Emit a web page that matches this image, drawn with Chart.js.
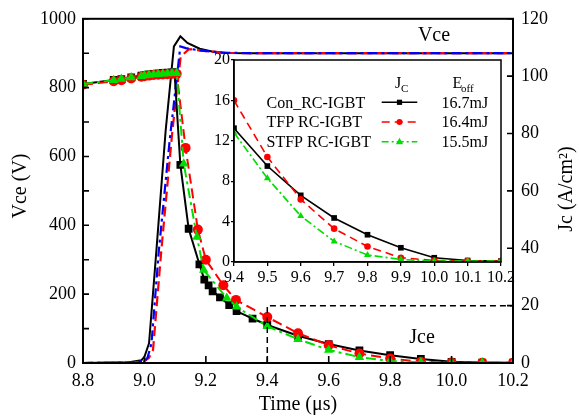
<!DOCTYPE html>
<html><head><meta charset="utf-8">
<script src="https://cdn.jsdelivr.net/npm/chart.js@4/dist/chart.umd.min.js"></script>
<style>
html,body{margin:0;padding:0;background:#fff;}
#wrap{position:relative;width:579px;height:420px;overflow:hidden;}
#main{position:absolute;left:0;top:0;}
#inset{position:absolute;left:194px;top:45px;}
</style></head><body>
<div id="wrap"><canvas id="main" width="579" height="420"></canvas><canvas id="inset" width="330" height="245"></canvas></div>
<script>
// ---------- data ----------
const seriesNames = ['Con_RC-IGBT', 'TFP RC-IGBT', 'STFP RC-IGBT'];
const eoffLabels = ['16.7mJ', '16.4mJ', '15.5mJ'];

// inset / tail (9.4 .. 10.2 us), Jc in A/cm2
const insetTime = [9.4, 9.5, 9.6, 9.7, 9.8, 9.9, 10.0, 10.1, 10.2];
const insetCon  = [13.25, 9.5, 6.6, 4.36, 2.7, 1.41, 0.42, 0.15, 0.1];
const insetTfp  = [16.0, 10.4, 6.2, 3.3, 1.54, 0.42, 0.15, 0.1, 0.1];
const insetStfp = [12.8, 8.3, 4.56, 2.04, 0.7, 0.25, 0.1, 0.1, 0.1];

// Jc before 9.4 us
const jcTimeCon  = [8.8, 8.9, 8.925, 8.957, 8.99, 9.0, 9.015, 9.03, 9.045, 9.06, 9.075, 9.09, 9.098, 9.117, 9.144, 9.179, 9.195, 9.209, 9.222, 9.246, 9.276, 9.3, 9.352];
const jcCon      = [97.3, 98.7, 99.0, 99.6, 100.2, 100.4, 100.6, 100.8, 101.0, 101.1, 101.2, 101.3, 101.3, 69.1, 46.8, 34.4, 29.1, 27.1, 25.0, 22.9, 20.2, 18.1, 15.5];
const jcTimeTfp  = [8.8, 8.9, 8.925, 8.957, 8.99, 9.0, 9.015, 9.03, 9.045, 9.06, 9.075, 9.09, 9.105, 9.134, 9.174, 9.2, 9.257, 9.298];
const jcTfp      = [97.0, 98.2, 98.6, 99.2, 99.8, 100.0, 100.2, 100.4, 100.5, 100.6, 100.7, 100.8, 100.8, 75.0, 46.5, 36.0, 27.1, 22.0];
const jcTimeStfp = [8.8, 8.9, 8.925, 8.957, 8.99, 9.0, 9.015, 9.03, 9.045, 9.06, 9.075, 9.09, 9.105, 9.128, 9.171, 9.193, 9.268, 9.3];
const jcStfp     = [97.3, 98.6, 99.0, 99.5, 100.0, 100.2, 100.4, 100.6, 100.7, 100.8, 100.9, 101.0, 101.0, 69.5, 43.9, 32.4, 22.7, 19.6];

// Vce (V)
const vceTimeCon  = [8.8, 8.95, 8.99, 9.0, 9.015, 9.039, 9.069, 9.096, 9.117, 9.14, 9.18, 9.22, 9.27, 9.35, 10.2];
const vceCon      = [0, 2, 8, 18, 57, 327, 674, 920, 949, 930, 913, 905, 901, 900, 900];
const vceTimeTfp  = [8.8, 8.95, 9.0, 9.015, 9.028, 9.055, 9.091, 9.118, 9.145, 9.2, 9.27, 9.35, 10.2];
const vceTfp      = [0, 1, 5, 15, 38, 327, 674, 890, 912, 906, 901, 900, 900];
const vceTimeStfp = [8.8, 8.95, 9.0, 9.01, 9.023, 9.047, 9.082, 9.117, 9.135, 9.18, 9.25, 9.35, 10.2];
const vceStfp     = [0, 1, 6, 15, 57, 327, 645, 920, 915, 908, 902, 900, 900];

const timeTicks = [8.8, 10.2];   // x range
const vceRange = [0, 1000];
const jcRange = [0, 120];
const insetJcRange = [0, 20];

// ---------- helpers ----------
const pts = (ts, vs) => ts.map((t, i) => ({x: t, y: vs[i]}));
const FONT = 'Liberation Serif';
Chart.defaults.font.family = FONT;
Chart.defaults.color = '#000';
const BLACK = '#000000', RED = '#ff0000', GREEN = '#00dd00', BLUE = '#0000ff';

// ---------- main chart ----------
const mainDeco = {
  id: 'mainDeco',
  afterDraw(chart) {
    const {ctx, chartArea: a, scales: {x, y, y2}} = chart;
    ctx.save();
    // inward ticks
    ctx.strokeStyle = '#000'; ctx.lineWidth = 1.6;
    ctx.beginPath();
    x.ticks.forEach(t => { const p = x.getPixelForValue(t.value); ctx.moveTo(p, a.bottom); ctx.lineTo(p, a.bottom - 7); });
    const yv = y.ticks.map(t => t.value);
    const yAll = [];
    yv.forEach((v, i) => { yAll.push(v); if (i < yv.length - 1) yAll.push((v + yv[i + 1]) / 2); });
    yAll.forEach(v => { const p = y.getPixelForValue(v); ctx.moveTo(a.left, p); ctx.lineTo(a.left + 6, p); });
    y2.ticks.forEach(t => { const p = y2.getPixelForValue(t.value); ctx.moveTo(a.right, p); ctx.lineTo(a.right - 6, p); });
    ctx.stroke();
    // zoom box (dashed)
    ctx.setLineDash([6, 4]); ctx.lineWidth = 1.5;
    ctx.beginPath();
    const xl = x.getPixelForValue(insetTime[0]), xr = x.getPixelForValue(insetTime[insetTime.length - 1]);
    const yt = y2.getPixelForValue(insetJcRange[1]), yb = y2.getPixelForValue(0);
    ctx.moveTo(xl, yb); ctx.lineTo(xl, yt); ctx.lineTo(xr, yt); ctx.lineTo(xr, yb);
    ctx.stroke();
    ctx.setLineDash([]);
    // frame
    ctx.lineWidth = 2;
    ctx.strokeRect(a.left, a.top, a.right - a.left, a.bottom - a.top);
    // annotations
    ctx.fillStyle = '#000';
    ctx.font = '20px ' + FONT;
    ctx.textAlign = 'center'; ctx.textBaseline = 'alphabetic';
    ctx.fillText('Vce', 434, 41);
    ctx.fillText('Jce', 422, 343);
    // axis titles
    ctx.textBaseline = 'middle';
    ctx.fillText('Time (\u03bcs)', 298, 405);
    ctx.save(); ctx.translate(21, 186); ctx.rotate(-Math.PI / 2); ctx.fillText('Vce (V)', 0, 0); ctx.restore();
    ctx.save(); ctx.translate(567, 189); ctx.rotate(-Math.PI / 2); ctx.fillText('Jc (A/cm\u00b2)', 0, 0); ctx.restore();
    ctx.restore();
  }
};

const tickFont = {family: FONT, size: 18};
new Chart(document.getElementById('main'), {
  type: 'line',
  data: {
    datasets: [
      {label: 'Jc ' + seriesNames[2], data: pts(jcTimeStfp.concat(insetTime), jcStfp.concat(insetStfp)), yAxisID: 'y2', order: 0,
       borderColor: GREEN, backgroundColor: GREEN, borderWidth: 2, borderDash: [10, 4, 3, 4], pointStyle: 'triangle', pointRadius: 5.5, pointBorderWidth: 0},
      {label: 'Jc ' + seriesNames[1], data: pts(jcTimeTfp.concat(insetTime), jcTfp.concat(insetTfp)), yAxisID: 'y2', order: 1,
       borderColor: RED, backgroundColor: RED, borderWidth: 2, borderDash: [10, 5], pointStyle: 'circle', pointRadius: 5, pointBorderWidth: 0},
      {label: 'Jc ' + seriesNames[0], data: pts(jcTimeCon.concat(insetTime), jcCon.concat(insetCon)), yAxisID: 'y2', order: 2,
       borderColor: BLACK, backgroundColor: BLACK, borderWidth: 2, pointStyle: 'rect', pointRadius: 5.5, pointBorderWidth: 0},
      {label: 'Vce ' + seriesNames[2], data: pts(vceTimeStfp, vceStfp), yAxisID: 'y', order: 3,
       borderColor: BLUE, borderWidth: 2.2, borderDash: [10, 4, 3, 4], pointRadius: 0},
      {label: 'Vce ' + seriesNames[1], data: pts(vceTimeTfp, vceTfp), yAxisID: 'y', order: 4,
       borderColor: RED, borderWidth: 2.2, borderDash: [10, 5], pointRadius: 0},
      {label: 'Vce ' + seriesNames[0], data: pts(vceTimeCon, vceCon), yAxisID: 'y', order: 5,
       borderColor: BLACK, borderWidth: 2, pointRadius: 0}
    ]
  },
  options: {
    responsive: false, animation: false, devicePixelRatio: 1,
    layout: {padding: {top: 18, left: 0, right: 0, bottom: 0}},
    plugins: {legend: {display: false}, tooltip: {enabled: false}},
    scales: {
      x: {type: 'linear', min: timeTicks[0], max: timeTicks[1],
          ticks: {stepSize: 0.2, callback: v => v.toFixed(1), font: tickFont, color: '#000', padding: 7, maxRotation: 0, autoSkip: false},
          grid: {display: false, drawTicks: false}, border: {display: true, color: '#000', width: 2},
          afterFit: s => { s.height = 57; }},
      y: {type: 'linear', position: 'left', min: vceRange[0], max: vceRange[1],
          ticks: {stepSize: 200, callback: v => String(v), font: tickFont, color: '#000', padding: 7},
          grid: {display: false, drawTicks: false}, border: {display: true, color: '#000', width: 2},
          afterFit: s => { s.width = 83; }},
      y2: {type: 'linear', position: 'right', min: jcRange[0], max: jcRange[1],
          ticks: {stepSize: 20, callback: v => String(v), font: tickFont, color: '#000', padding: 8},
          grid: {display: false, drawTicks: false}, border: {display: true, color: '#000', width: 2},
          afterFit: s => { s.width = 66; }}
    }
  },
  plugins: [mainDeco]
});

// ---------- inset chart ----------
const OX = 194, OY = 45; // inset canvas offset on the page
function drawMarker(ctx, style, x, y, r, color) {
  ctx.fillStyle = color;
  ctx.beginPath();
  if (style === 'rect') { ctx.rect(x - r, y - r, 2 * r, 2 * r); }
  else if (style === 'circle') { ctx.arc(x, y, r, 0, Math.PI * 2); }
  else { ctx.moveTo(x, y - r * 1.1); ctx.lineTo(x + r, y + r * 0.7); ctx.lineTo(x - r, y + r * 0.7); ctx.closePath(); }
  ctx.fill();
}
const insetDeco = {
  id: 'insetDeco',
  beforeDraw(chart) {
    const {ctx, chartArea: a} = chart;
    ctx.save(); ctx.fillStyle = '#fff';
    ctx.fillRect(a.left, a.top, a.right - a.left, a.bottom - a.top);
    ctx.restore();
  },
  afterDraw(chart) {
    const {ctx, chartArea: a} = chart;
    ctx.save();
    ctx.strokeStyle = '#000'; ctx.lineWidth = 1.5;
    ctx.strokeRect(a.left, a.top, a.right - a.left, a.bottom - a.top);
    ctx.translate(-OX, -OY);
    // legend header
    ctx.fillStyle = '#000'; ctx.textAlign = 'left'; ctx.textBaseline = 'alphabetic';
    ctx.font = '16px ' + FONT;
    ctx.fillText('J', 395, 88);
    ctx.fillText('E', 452.5, 88);
    ctx.font = '11px ' + FONT;
    ctx.fillText('C', 401, 92);
    ctx.fillText('off', 461, 92);
    const rows = [102.3, 122, 141.7];
    const colors = [BLACK, RED, GREEN];
    const dashes = [[], [8, 5], [7, 3, 2, 3]];
    const styles = ['rect', 'circle', 'triangle'];
    const mr = [2.6, 3, 3.6];
    rows.forEach((cy, i) => {
      ctx.font = '16px ' + FONT; ctx.fillStyle = '#000';
      ctx.textBaseline = 'middle';
      ctx.fillText(seriesNames[i], 266.5, cy + 1);
      ctx.fillText(eoffLabels[i], 441.5, cy + 1);
      ctx.strokeStyle = colors[i]; ctx.lineWidth = 1.6; ctx.setLineDash(dashes[i]);
      ctx.beginPath(); ctx.moveTo(381.7, cy); ctx.lineTo(417.3, cy); ctx.stroke();
      ctx.setLineDash([]);
      drawMarker(ctx, styles[i], 399.5, cy, mr[i], colors[i]);
    });
    ctx.restore();
  }
};
const insetFont = {family: FONT, size: 16};
new Chart(document.getElementById('inset'), {
  type: 'line',
  data: {
    datasets: [
      {label: seriesNames[2], data: pts(insetTime, insetStfp), order: 0,
       borderColor: GREEN, backgroundColor: GREEN, borderWidth: 1.6, borderDash: [8, 3, 2, 3], pointStyle: 'triangle', pointRadius: 4, pointBorderWidth: 0},
      {label: seriesNames[1], data: pts(insetTime, insetTfp), order: 1,
       borderColor: RED, backgroundColor: RED, borderWidth: 1.6, borderDash: [8, 5], pointStyle: 'circle', pointRadius: 3.3, pointBorderWidth: 0},
      {label: seriesNames[0], data: pts(insetTime, insetCon), order: 2,
       borderColor: BLACK, backgroundColor: BLACK, borderWidth: 1.6, pointStyle: 'rect', pointRadius: 4, pointBorderWidth: 0}
    ]
  },
  options: {
    responsive: false, animation: false, devicePixelRatio: 1,
    layout: {padding: {top: 15, left: 0, right: 23, bottom: 0}},
    plugins: {legend: {display: false}, tooltip: {enabled: false}},
    scales: {
      x: {type: 'linear', min: insetTime[0], max: insetTime[insetTime.length - 1],
          ticks: {stepSize: 0.1, callback: v => v.toFixed(1), font: insetFont, color: '#000', padding: 2, maxRotation: 0, autoSkip: false},
          grid: {display: true, drawOnChartArea: false, drawTicks: true, tickLength: 4, color: '#000', lineWidth: 1.3},
          border: {display: true, color: '#000', width: 1.5},
          afterFit: s => { s.height = 28; }},
      y: {type: 'linear', min: insetJcRange[0], max: insetJcRange[1],
          ticks: {stepSize: 4, font: insetFont, color: '#000', padding: 1},
          grid: {display: true, drawOnChartArea: false, drawTicks: true, tickLength: 3, color: '#000', lineWidth: 1.3},
          border: {display: true, color: '#000', width: 1.5},
          afterFit: s => { s.width = 40; }}
    }
  },
  plugins: [insetDeco]
});
</script>
</body></html>
